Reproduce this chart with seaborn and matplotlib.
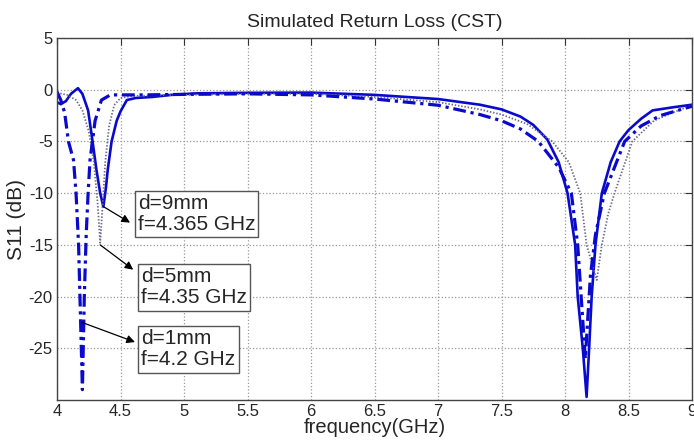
import matplotlib
matplotlib.use("Agg")
import matplotlib.pyplot as plt
import seaborn as sns
import numpy as np
import pandas as pd

# d = 9 mm (solid)
f_d9 = [4.00, 4.03, 4.07, 4.11, 4.165, 4.20, 4.245, 4.28, 4.31, 4.34, 4.365, 4.385, 4.40, 4.43, 4.47, 4.50,
        4.55, 4.62, 4.75, 4.90, 5.10, 5.50, 6.00, 6.50, 7.00, 7.33, 7.50, 7.65, 7.75, 7.86, 7.95, 8.02, 8.08,
        8.10, 8.14, 8.17, 8.19, 8.21, 8.24, 8.29, 8.36, 8.43, 8.50, 8.60, 8.69, 8.85, 9.00]
s_d9 = [-1.2, -1.4, -1.1, -0.4, 0.15, -0.4, -2.0, -5.0, -7.7, -10.0, -11.3, -9.5, -7.7, -5.0, -3.0, -2.1,
        -1.0, -0.8, -0.7, -0.5, -0.35, -0.3, -0.28, -0.5, -0.9, -1.45, -1.9, -2.6, -3.4, -4.8, -7.0, -10.0, -15.0,
        -20.0, -25.0, -29.7, -25.0, -20.0, -15.0, -10.0, -7.0, -5.0, -3.9, -2.8, -2.0, -1.7, -1.45]

# d = 5 mm (dotted)
f_d5 = [4.00, 4.08, 4.15, 4.20, 4.25, 4.29, 4.32, 4.34, 4.36, 4.38, 4.41, 4.45, 4.50, 4.60, 5.00, 5.50,
        6.00, 6.50, 7.00, 7.33, 7.50, 7.70, 7.90, 8.03, 8.12, 8.17, 8.25, 8.29, 8.34, 8.39, 8.53, 8.70, 8.85, 9.00]
s_d5 = [-0.3, -0.5, -1.0, -2.0, -4.0, -7.0, -11.0, -14.8, -11.0, -7.0, -3.5, -1.5, -0.8, -0.6, -0.5, -0.4,
        -0.4, -0.7, -1.2, -1.9, -2.4, -3.3, -5.0, -7.0, -10.0, -15.0, -18.4, -15.0, -12.0, -10.0, -5.0, -3.0, -2.2, -1.5]

# d = 1 mm (dash-dot)
f_d1 = [4.00, 4.03, 4.06, 4.09, 4.13, 4.15, 4.17, 4.185, 4.20, 4.215, 4.23, 4.245, 4.26, 4.30, 4.35, 4.42,
        4.50, 4.70, 5.00, 5.50, 6.00, 6.50, 7.00, 7.33, 7.50, 7.65, 7.79, 7.95, 8.05, 8.10, 8.16, 8.20, 8.24,
        8.31, 8.47, 8.60, 8.75, 9.00]
s_d1 = [-0.2, -1.0, -2.2, -5.0, -6.8, -10.0, -15.0, -22.0, -29.0, -20.0, -14.0, -10.0, -6.8, -3.0, -1.0, -0.5,
        -0.5, -0.5, -0.45, -0.4, -0.5, -0.9, -1.5, -2.4, -3.0, -3.8, -5.0, -7.5, -10.0, -15.0, -26.0, -18.0, -14.0,
        -10.0, -5.0, -3.5, -2.5, -1.6]

x_ticks = [4, 4.5, 5, 5.5, 6, 6.5, 7, 7.5, 8, 8.5, 9]
x_tick_labels = ["4", "4.5", "5", "5.5", "6", "6.5", "7", "7.5", "8", "8.5", "9"]
y_ticks = [-25, -20, -15, -10, -5, 0, 5]
y_tick_labels = ["-25", "-20", "-15", "-10", "-5", "0", "5"]

notes = ["d=9mm\nf=4.365 GHz", "d=5mm\nf=4.35 GHz", "d=1mm\nf=4.2 GHz"]
note_xy = [(4.365, -11.3), (4.34, -15.0), (4.197, -22.5)]
note_arrow_end = [(4.575, -12.85), (4.60, -17.4), (4.614, -24.4)]
note_text_pos = [(4.635, -12.0), (4.665, -19.1), (4.665, -25.1)]

sns.set_style("white")
plt.rcParams["font.family"] = ["Liberation Sans", "DejaVu Sans"]
plt.rcParams["axes.unicode_minus"] = False

fig = plt.figure(figsize=(6.94, 4.41), dpi=100)
ax = fig.add_axes([57 / 694, 1 - 400 / 441, 635 / 694, 362 / 441])

blue = "#0a0acc"
sns.lineplot(x=f_d9, y=s_d9, ax=ax, color=blue, linewidth=1.9, linestyle="-", sort=False)
sns.lineplot(x=f_d5, y=s_d5, ax=ax, color="#6a6a8a", linewidth=1.3, linestyle=(0, (0.8, 1.0)), sort=False)
sns.lineplot(x=f_d1, y=s_d1, ax=ax, color=blue, linewidth=2.3, linestyle=(0, (4, 1.5, 1, 1.5)), sort=False)

ax.set_xlim(4, 9)
ax.set_ylim(-30, 5)
ax.set_xticks(x_ticks)
ax.set_xticklabels(x_tick_labels)
ax.set_yticks(y_ticks)
ax.set_yticklabels(y_tick_labels)
ax.grid(True, linestyle=":", color="#999999", linewidth=0.9)
ax.tick_params(direction="in", top=True, right=True, length=5, labelsize=12, color="#333333", pad=3)
for sp in ax.spines.values():
    sp.set_color("#444444")
    sp.set_linewidth(1.0)

ax.set_xlabel("frequency(GHz)", fontsize=14.5, labelpad=-1)
ax.set_ylabel("S11 (dB)", fontsize=15, labelpad=2)
ax.set_title("Simulated Return Loss (CST)", fontsize=14, pad=8)

for txt, xy, end, tp in zip(notes, note_xy, note_arrow_end, note_text_pos):
    ax.annotate("", xy=end, xytext=xy,
                arrowprops=dict(arrowstyle="-|>", color="black", lw=0.9, mutation_scale=12,
                                shrinkA=0, shrinkB=0))
    ax.text(tp[0], tp[1], txt, fontsize=15, ha="left", va="center", linespacing=1.15,
            bbox=dict(boxstyle="square,pad=0.15", facecolor="white", edgecolor="#555555", linewidth=1.0))

fig.savefig("out.png", dpi=100)
